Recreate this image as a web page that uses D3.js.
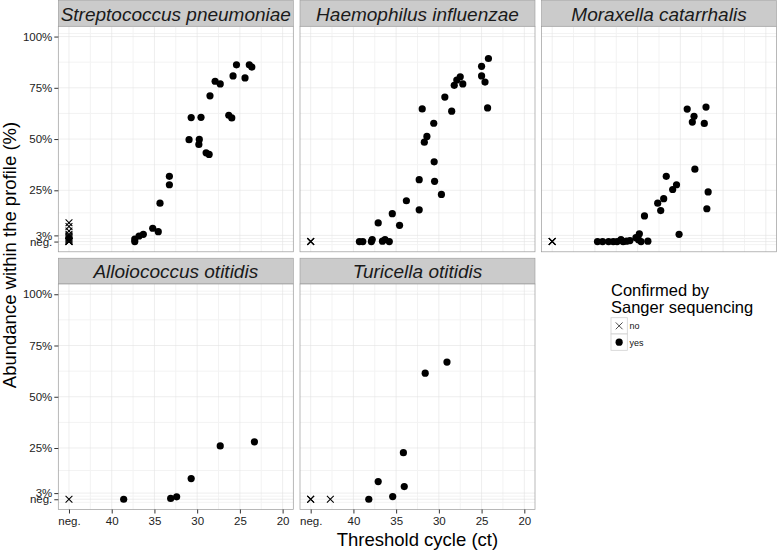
<!DOCTYPE html>
<html>
<head>
<meta charset="utf-8">
<script src="https://cdn.jsdelivr.net/npm/d3@7"></script>
<style>
  body { margin: 0; background: #fff; }
  svg { display: block; font-family: "Liberation Sans", Arial, sans-serif; }
</style>
</head>
<body>
<div id="chart"></div>
<script>
const width = 777, height = 551;

// facets, in ggplot facet_wrap order
const species = ["Streptococcus pneumoniae", "Haemophilus influenzae", "Moraxella catarrhalis",
                 "Alloiococcus otitidis", "Turicella otitidis"];

// axis ticks (ct 45 = negative qPCR, abundance 0 = not found in profile)
const xTicks = [45, 40, 35, 30, 25, 20];
const xTickLabels = ["neg.", "40", "35", "30", "25", "20"];
const xMinor = [42.5, 37.5, 32.5, 27.5, 22.5];
const yTicks = [0, 3, 25, 50, 75, 100];
const yTickLabels = ["neg.", "3%", "25%", "50%", "75%", "100%"];
const yMinor = [-1.5, 1.5, 14, 37.5, 62.5, 87.5, 101.5];

// [ct, abundance %] — confirmed by Sanger sequencing
const strepYes = [[37.3, 0], [37.3, 1.2], [36.8, 2.7], [36.3, 3.5], [35.2, 6.5], [34.55, 4.8],
  [34.35, 18.7], [33.25, 27.7], [33.25, 31.8], [30.95, 49.7], [30.7, 60.5], [29.75, 49.8],
  [29.8, 47.4], [29.55, 60.6], [28.95, 43.3], [28.6, 42.5], [28.5, 71.1], [27.9, 78.2],
  [27.3, 76.9], [26.3, 61.6], [25.95, 60.3], [25.8, 80.8], [25.4, 86.2], [24.4, 79.8],
  [23.9, 86.2], [23.6, 85.1]];
const haemYes = [[39.3, 0], [38.9, 0], [37.9, 0], [37.8, 1], [36.6, 0.2], [36.3, 1], [35.8, 0],
  [37.1, 9.1], [35.45, 13.6], [34.6, 7.9], [33.8, 19.9], [32.3, 15.5], [32.3, 30.2],
  [30.5, 29.4], [29.7, 23], [30.55, 38.9], [31.7, 48.5], [31.4, 51.3], [30.6, 57.7],
  [31.95, 64.7], [29.3, 70.5], [28.5, 63.6], [28.2, 76.2], [27.9, 78.8], [27.5, 80.4],
  [27.2, 76.9], [25.0, 85.5], [24.2, 89.3], [25.0, 80.8], [24.6, 77.8], [24.3, 65.2]];
const moraxYes = [[39.7, 0], [39.1, 0], [38.4, 0], [37.85, 0], [37.4, 0], [36.95, 0.9],
  [36.7, 0], [36.3, 0.2], [35.9, 0.5], [35.2, 1.9], [34.8, 3.8], [34.9, 0.9], [34.6, 0],
  [33.8, 0.2], [34.2, 12.5], [30.15, 3.5], [32.65, 18.7], [31.95, 20.9], [32.3, 15.1],
  [31.65, 31.8], [30.9, 25.4], [30.45, 27.7], [28.3, 35.3], [29.2, 64.6], [28.4, 61.1],
  [28.6, 58.3], [27.0, 65.6], [27.2, 57.6], [26.75, 24.2], [26.9, 16]];
const alloYes = [[38.6, 0], [33.1, 0.4], [32.4, 1.2], [30.7, 10.1], [27.3, 26.0], [23.3, 28.0]];
const turiYes = [[38.2, 0], [35.4, 1.3], [37.1, 8.6], [34.05, 6.2], [34.15, 22.7],
  [31.6, 61.5], [29.05, 66.9]];

// not confirmed
const strepNo = [[45, 0], [45, 0], [45, 0], [45, 0.5], [45, 1], [45, 1.5], [45, 2], [45, 2.5],
  [45, 3], [45, 3.5], [45, 5.1], [45, 7.3], [45, 9.2]];
const haemNo = [[45, 0], [45, 0], [45, 0]];
const moraxNo = [[45, 0], [45, 0], [45, 0]];
const alloNo = [[45, 0]];
const turiNo = [[45, 0], [45, 0], [42.7, 0]];

const yesData = [strepYes, haemYes, moraxYes, alloYes, turiYes];
const noData = [strepNo, haemNo, moraxNo, alloNo, turiNo];

// layout
const panelW = 235, panelH = 225.5, stripH = 25.8;
const colX = [58.3, 300, 541.5];
const rowY = [0.5, 258.2];

const svg = d3.select("#chart").append("svg")
  .attr("width", width)
  .attr("height", height);

const x = d3.scaleLinear().domain([46.25, 18.75]).range([0, panelW]);
const y = d3.scaleLinear().domain([-5, 105]).range([panelH, 0]);

const crossPath = "M-3.4,-3.4L3.4,3.4M-3.4,3.4L3.4,-3.4";

species.forEach((name, i) => {
  const col = i % 3, row = Math.floor(i / 3);
  const g = svg.append("g")
    .attr("transform", `translate(${colX[col]},${rowY[row]})`);

  // strip
  g.append("rect")
    .attr("width", panelW).attr("height", stripH)
    .attr("fill", "#cbcbcb").attr("stroke", "#9a9a9a").attr("stroke-width", 0.6);
  g.append("text")
    .attr("x", panelW / 2).attr("y", 20)
    .attr("text-anchor", "middle")
    .style("font-style", "italic")
    .style("font-size", "19px")
    .attr("fill", "#1a1a1a")
    .text(name);

  const p = g.append("g").attr("transform", `translate(0,${stripH})`);
  p.append("rect").attr("width", panelW).attr("height", panelH).attr("fill", "#fff");

  // grid
  p.selectAll(".xminor").data(xMinor).join("line")
    .attr("x1", d => x(d)).attr("x2", d => x(d)).attr("y1", 0).attr("y2", panelH)
    .attr("stroke", "#f3f3f3").attr("stroke-width", 1);
  p.selectAll(".yminor").data(yMinor).join("line")
    .attr("y1", d => y(d)).attr("y2", d => y(d)).attr("x1", 0).attr("x2", panelW)
    .attr("stroke", "#f3f3f3").attr("stroke-width", 1);
  p.selectAll(".xmajor").data(xTicks).join("line")
    .attr("x1", d => x(d)).attr("x2", d => x(d)).attr("y1", 0).attr("y2", panelH)
    .attr("stroke", "#e3e3e3").attr("stroke-width", 0.6);
  p.selectAll(".ymajor").data(yTicks).join("line")
    .attr("y1", d => y(d)).attr("y2", d => y(d)).attr("x1", 0).attr("x2", panelW)
    .attr("stroke", "#e3e3e3").attr("stroke-width", 0.6);

  // points
  p.selectAll(".no").data(noData[i]).join("path")
    .attr("transform", d => `translate(${x(d[0])},${y(d[1])})`)
    .attr("d", crossPath)
    .attr("fill", "none").attr("stroke", "#000").attr("stroke-width", 1.05);
  p.selectAll(".yes").data(yesData[i]).join("circle")
    .attr("cx", d => x(d[0])).attr("cy", d => y(d[1]))
    .attr("r", 3.6).attr("fill", "#000");

  p.append("rect").attr("width", panelW).attr("height", panelH)
    .attr("fill", "none").attr("stroke", "#9a9a9a").attr("stroke-width", 0.7);

  // axes: left column and bottom row only
  if (col === 0) {
    const ay = p.append("g")
      .call(d3.axisLeft(y).tickValues(yTicks).tickFormat((d, k) => yTickLabels[k])
        .tickSize(4).tickPadding(2));
    ay.select(".domain").remove();
    ay.selectAll("line").attr("stroke", "#333");
    ay.selectAll("text").attr("fill", "#222")
      .style("font-size", "11.5px").style("font-family", "Liberation Sans, Arial, sans-serif");
  }
  if (row === 1) {
    const ax = p.append("g")
      .attr("transform", `translate(0,${panelH})`)
      .call(d3.axisBottom(x).tickValues(xTicks).tickFormat((d, k) => xTickLabels[k])
        .tickSize(4).tickPadding(3));
    ax.select(".domain").remove();
    ax.selectAll("line").attr("stroke", "#333");
    ax.selectAll("text").attr("fill", "#222")
      .style("font-size", "11.5px").style("font-family", "Liberation Sans, Arial, sans-serif");
  }
});

// axis titles
svg.append("text")
  .attr("x", (colX[0] + colX[2] + panelW) / 2).attr("y", 546)
  .attr("text-anchor", "middle")
  .style("font-size", "18.5px")
  .text("Threshold cycle (ct)");
svg.append("text")
  .attr("transform", "rotate(-90)")
  .attr("x", -255).attr("y", 16)
  .attr("text-anchor", "middle")
  .style("font-size", "18.5px")
  .text("Abundance within the profile (%)");

// legend
const legend = svg.append("g").attr("transform", "translate(611,0)");
legend.append("text").attr("x", 0).attr("y", 295.7)
  .style("font-size", "16.5px").text("Confirmed by");
legend.append("text").attr("x", 0).attr("y", 313.3)
  .style("font-size", "16.5px").text("Sanger sequencing");

const keys = ["no", "yes"];
keys.forEach((k, i) => {
  const kg = legend.append("g").attr("transform", `translate(0,${317.7 + i * 16.3})`);
  kg.append("rect").attr("width", 16.3).attr("height", 16.3)
    .attr("fill", "#fff").attr("stroke", "#d0d0d0").attr("stroke-width", 0.8);
  if (k === "no") {
    kg.append("path")
      .attr("transform", "translate(8.15,8.15)")
      .attr("d", crossPath)
      .attr("fill", "none").attr("stroke", "#000").attr("stroke-width", 0.7);
  } else {
    kg.append("circle").attr("cx", 8.15).attr("cy", 8.15).attr("r", 3.6).attr("fill", "#000");
  }
  kg.append("text").attr("x", 18.5).attr("y", 11.5)
    .style("font-size", "9px").attr("fill", "#111").text(k);
});
</script>
</body>
</html>
